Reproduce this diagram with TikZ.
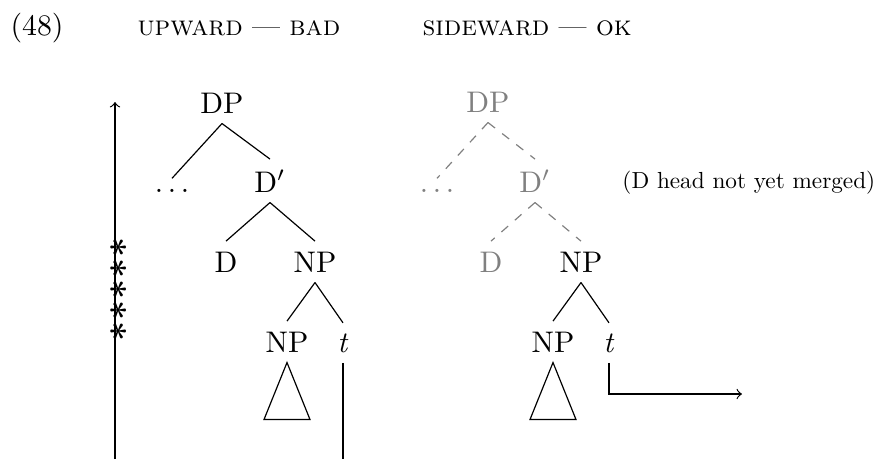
\documentclass[tikz,border=0pt]{standalone}
\usepackage{tikz}

\newcommand{\spreaddots}{.\kern.16em.\kern.16em.}

\begin{document}
\begin{tikzpicture}[x=0.3356pt,y=-0.3356pt,
    lbl/.style={anchor=base},
    ghost/.style={lbl,gray},
    ghostedge/.style={gray,dashed},
    head/.style={anchor=base west,inner sep=0,scale=0.94}]
    \useasboundingbox (0,0) rectangle (878,459);
    % header
    \node[anchor=base west,inner sep=0] (num) at (10,35) {(48)};
    \node[head] (upward) at (137,35) {\textsc{upward} --- \textsc{bad}};
    \node[head] (sideward) at (422,35) {\textsc{sideward} --- \textsc{ok}};
    % upward tree
    \node[lbl] (dpL) at (222,113) {DP};
    \node[lbl] (dotsL) at (172,192) {\spreaddots};
    \node[lbl] (dbarL) at (270,192) {D$'$};
    \node[lbl] (dL) at (226,272) {D};
    \node[lbl] (npL) at (315,272) {NP};
    \node[lbl] (np2L) at (287,352) {NP};
    \node[lbl] (tL) at (343,352) {\textit{t}};
    \draw (dpL.south) -- (dotsL.north);
    \draw (dpL.south) -- (dbarL.north);
    \draw (dbarL.south) -- (dL.north);
    \draw (dbarL.south) -- (npL.north);
    \draw (npL.south) -- (np2L.north);
    \draw (npL.south) -- (tL.north);
    \draw (np2L.south) -- ++(-23,57) -- ++(46,0) -- cycle;
    \coordinate (tLend) at (343,459);
    \draw (tL.south) -- (tLend);
    % upward arrow with stars
    \coordinate (upbot) at (115,459);
    \coordinate (uptop) at (115,102);
    \draw[->] (upbot) -- (uptop);
    \foreach \y in {247,268,289,310,331}
        \node[rotate=90,inner sep=0,font=\large\bfseries] (star\y) at (124,\y) {*};
    % sideward tree
    \node[ghost] (dpR) at (488,112) {DP};
    \node[ghost] (dotsR) at (437,192) {\spreaddots};
    \node[ghost] (dbarR) at (535,192) {D$'$};
    \node[anchor=base west,inner sep=0,scale=0.78] (note) at (622,188) {(D head not yet merged)};
    \node[ghost] (dR) at (491,272) {D};
    \node[lbl] (npR) at (581,272) {NP};
    \node[lbl] (np2R) at (553,352) {NP};
    \node[lbl] (tR) at (609,352) {\textit{t}};
    \draw[ghostedge] (dpR.south) -- (dotsR.north);
    \draw[ghostedge] (dpR.south) -- (dbarR.north);
    \draw[ghostedge] (dbarR.south) -- (dR.north);
    \draw[ghostedge] (dbarR.south) -- (npR.north);
    \draw (npR.south) -- (np2R.north);
    \draw (npR.south) -- (tR.north);
    \draw (np2R.south) -- ++(-23,57) -- ++(46,0) -- cycle;
    \coordinate (tRend) at (742,394);
    \draw[->] (tR.south) |- (tRend);
\end{tikzpicture}
\end{document}
